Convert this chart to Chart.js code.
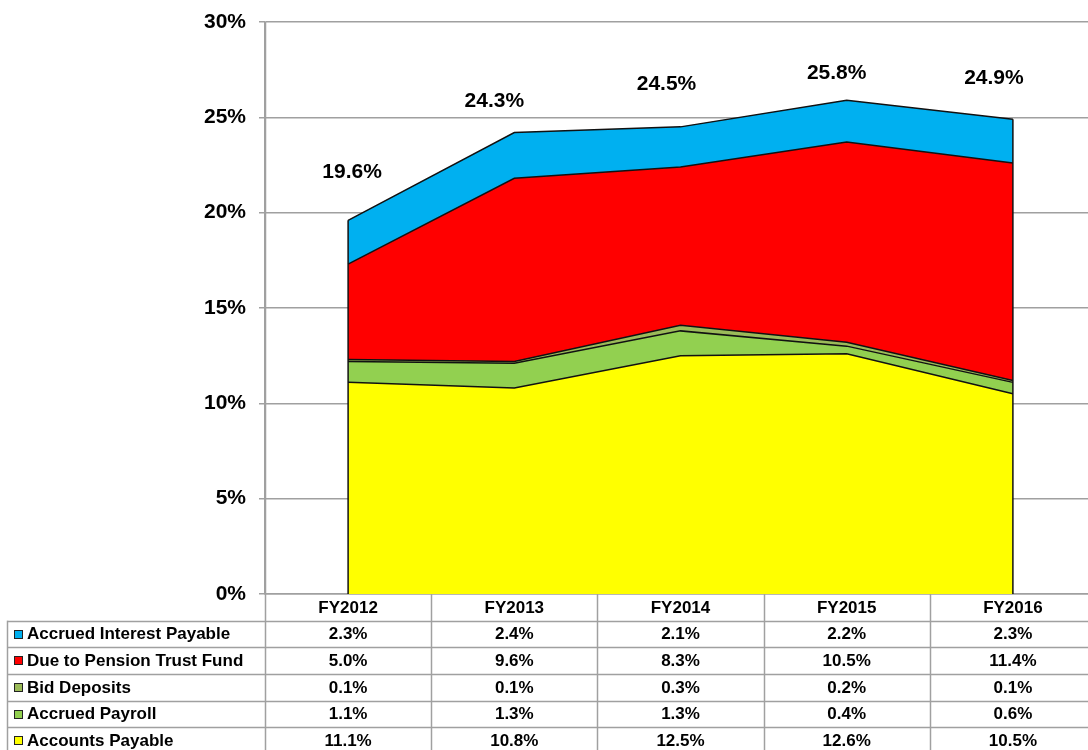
<!DOCTYPE html>
<html>
<head>
<meta charset="utf-8">
<script src="https://cdn.jsdelivr.net/npm/chart.js@4/dist/chart.umd.min.js"></script>
<style>
  html, body { margin: 0; padding: 0; background: #fff; overflow: hidden; }
  #wrap { width: 1100px; height: 750px; }
</style>
</head>
<body>
<div id="wrap"><canvas id="c" width="1100" height="750"></canvas></div>
<script>
// ---- data ----
const categories = ['FY2012', 'FY2013', 'FY2014', 'FY2015', 'FY2016'];
const accountsPayable = [11.1, 10.8, 12.5, 12.6, 10.5];
const accruedPayroll = [1.1, 1.3, 1.3, 0.4, 0.6];
const bidDeposits = [0.1, 0.1, 0.3, 0.2, 0.1];
const pensionTrust = [5.0, 9.6, 8.3, 10.5, 11.4];
const accruedInterest = [2.3, 2.4, 2.1, 2.2, 2.3];
const totals = [19.6, 24.3, 24.5, 25.8, 24.9];
const yTicks = [0, 5, 10, 15, 20, 25, 30];

// ---- styling (not data) ----
const FONT = "'Liberation Sans', Arial, sans-serif";
const GRID = '#a0a0a0';
const labelOffsets = [[4, -48], [-20, -29], [-14, -43], [-10, -29], [-19, -41]];

const seriesDefs = [
  { label: 'Accounts Payable', data: accountsPayable, color: '#FFFF00' },
  { label: 'Accrued Payroll', data: accruedPayroll, color: '#92D050' },
  { label: 'Bid Deposits', data: bidDeposits, color: '#9BBB59' },
  { label: 'Due to Pension Trust Fund', data: pensionTrust, color: '#FF0000' },
  { label: 'Accrued Interest Payable', data: accruedInterest, color: '#00B0F0' }
];

const datasets = seriesDefs.map((s, i) => ({
  label: s.label,
  data: s.data,
  backgroundColor: s.color,
  borderColor: '#111',
  borderWidth: 1.5,
  pointRadius: 0,
  pointHoverRadius: 0,
  tension: 0,
  fill: i === 0 ? 'origin' : '-1'
}));

const tablePlugin = {
  id: 'tablePlugin',
  afterDatasetsDraw(chart) {
    const ctx = chart.ctx;
    const x = chart.scales.x, y = chart.scales.y;
    const n = categories.length;
    ctx.save();
    ctx.strokeStyle = '#111';
    ctx.lineWidth = 1.5;
    [0, n - 1].forEach(i => {
      const px = x.getPixelForValue(i);
      ctx.beginPath();
      ctx.moveTo(px, y.getPixelForValue(0));
      ctx.lineTo(px, y.getPixelForValue(totals[i]));
      ctx.stroke();
    });
    ctx.fillStyle = '#000';
    ctx.font = 'bold 21px ' + FONT;
    ctx.textAlign = 'center';
    ctx.textBaseline = 'middle';
    totals.forEach((t, i) => {
      const px = x.getPixelForValue(i) + labelOffsets[i][0];
      const py = y.getPixelForValue(t) + labelOffsets[i][1];
      ctx.fillText(t.toFixed(1) + '%', px, py);
    });
    ctx.restore();
  },
  afterDraw(chart) {
    const ctx = chart.ctx;
    const area = chart.chartArea;
    const x = chart.scales.x;
    const n = categories.length;
    const bin = (area.right - area.left) / n;
    const rowH = (chart.height - area.bottom) / 5.85;
    const leftEdge = 7.5;
    const rows = seriesDefs.slice().reverse();
    ctx.save();
    ctx.strokeStyle = GRID;
    ctx.lineWidth = 1.5;
    for (let k = 0; k <= n; k++) {
      const px = Math.round(area.left + k * bin) + 0.5;
      ctx.beginPath();
      ctx.moveTo(px, k === 0 ? area.top : area.bottom);
      ctx.lineTo(px, chart.height);
      ctx.stroke();
    }
    ctx.beginPath();
    ctx.moveTo(leftEdge, area.bottom + rowH);
    ctx.lineTo(leftEdge, chart.height);
    ctx.stroke();
    for (let r = 1; r <= 5; r++) {
      const py = Math.round(area.bottom + r * rowH) + 0.5;
      ctx.beginPath();
      ctx.moveTo(leftEdge, py);
      ctx.lineTo(area.right, py);
      ctx.stroke();
    }
    ctx.font = 'bold 17px ' + FONT;
    ctx.textBaseline = 'middle';
    rows.forEach((s, r) => {
      const cy = area.bottom + (r + 1.5) * rowH + 0.5;
      ctx.fillStyle = s.color;
      ctx.fillRect(15, Math.round(cy - 4), 7, 7);
      ctx.strokeStyle = '#222';
      ctx.lineWidth = 1;
      ctx.strokeRect(14.5, Math.round(cy - 4) - 0.5, 8, 8);
      ctx.fillStyle = '#000';
      ctx.textAlign = 'left';
      ctx.fillText(s.label, 27, cy);
      ctx.textAlign = 'center';
      s.data.forEach((v, i) => {
        ctx.fillText(v.toFixed(1) + '%', x.getPixelForValue(i), cy);
      });
    });
    ctx.restore();
  }
};

new Chart(document.getElementById('c'), {
  type: 'line',
  data: { labels: categories, datasets },
  options: {
    responsive: false,
    animation: false,
    devicePixelRatio: 1,
    layout: { padding: { top: 22, right: 4, bottom: 0, left: 0 } },
    plugins: { legend: { display: false }, tooltip: { enabled: false } },
    elements: { line: { borderJoinStyle: 'miter' } },
    scales: {
      x: {
        type: 'category',
        offset: true,
        grid: { display: false, drawTicks: false },
        border: { display: true, color: GRID, width: 1.5 },
        ticks: {
          color: '#000',
          font: { family: FONT, size: 17, weight: 'bold' },
          padding: 4,
          maxRotation: 0,
          autoSkip: false
        },
        afterFit(scale) { scale.height = 156; scale.paddingLeft = 0; scale.paddingRight = 0; }
      },
      y: {
        stacked: true,
        min: 0,
        max: 30,
        afterBuildTicks(scale) { scale.ticks = yTicks.map(v => ({ value: v })); },
        grid: { color: GRID, lineWidth: 1.5, tickLength: 6, drawTicks: true },
        border: { display: true, color: GRID, width: 1.5 },
        ticks: {
          color: '#000',
          font: { family: FONT, size: 21, weight: 'bold' },
          padding: 13,
          callback: v => v + '%'
        },
        afterFit(scale) { scale.width = 265; scale.paddingTop = 0; scale.paddingBottom = 0; }
      }
    }
  },
  plugins: [tablePlugin]
});
</script>
</body>
</html>
